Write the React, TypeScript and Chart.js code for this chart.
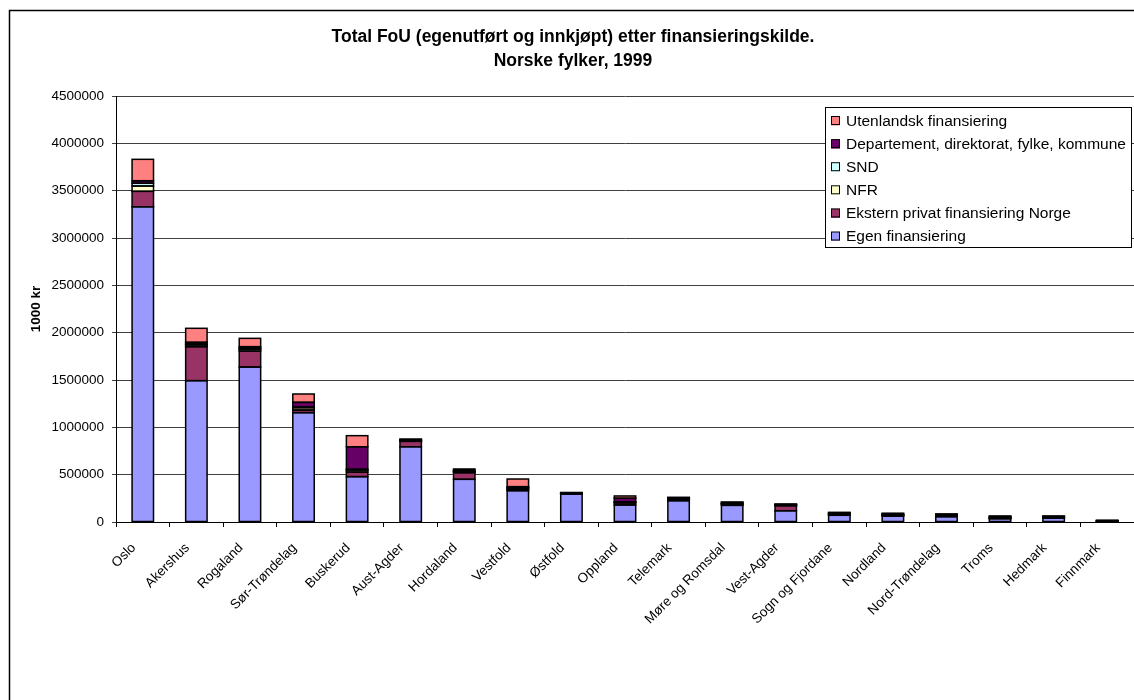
import React, { useEffect, useRef } from 'react';
import { Chart, registerables } from 'chart.js';

Chart.register(...registerables);

const FONT = "'Liberation Sans', Arial, Helvetica, sans-serif";

const categories = [
  'Oslo', 'Akershus', 'Rogaland', 'Sør-Trøndelag', 'Buskerud', 'Aust-Agder', 'Hordaland',
  'Vestfold', 'Østfold', 'Oppland', 'Telemark', 'Møre og Romsdal', 'Vest-Agder',
  'Sogn og Fjordane', 'Nordland', 'Nord-Trøndelag', 'Troms', 'Hedmark', 'Finnmark',
];

const egenFinansiering = [3330000, 1493000, 1637000, 1155000, 479000, 795000, 451000, 331000, 296000, 180000, 225000, 176000, 119000, 71000, 63000, 56000, 35000, 42000, 5000];
const eksternPrivat = [163000, 359000, 169000, 28000, 49000, 57000, 70000, 15000, 4000, 22000, 10000, 10000, 53000, 6000, 5000, 5000, 4000, 4000, 2000];
const nfr = [56000, 18000, 20000, 24000, 21000, 5000, 10000, 12000, 2000, 6000, 8000, 8000, 4000, 6000, 6000, 6000, 6000, 4000, 2000];
const snd = [29000, 10000, 10000, 8000, 8000, 3000, 5000, 5000, 2000, 3000, 3000, 3000, 3000, 3000, 3000, 3000, 3000, 3000, 1000];
const departement = [27000, 18000, 16000, 49000, 238000, 13000, 10000, 10000, 6000, 40000, 10000, 10000, 8000, 12000, 12000, 12000, 12000, 8000, 6000];
const utenlandsk = [226000, 148000, 88000, 88000, 117000, 2000, 14000, 81000, 1000, 24000, 5000, 4000, 3000, 4000, 3000, 3000, 3000, 2000, 2000];

const seriesNames = [
  'Egen finansiering',
  'Ekstern privat finansiering Norge',
  'NFR',
  'SND',
  'Departement, direktorat, fylke, kommune',
  'Utenlandsk finansiering',
];
const seriesColors = ['#9999FF', '#993366', '#FFFFCC', '#CCFFFF', '#660066', '#FF8080'];
const seriesValues = [egenFinansiering, eksternPrivat, nfr, snd, departement, utenlandsk];

const titleLines = ['Total FoU (egenutført og innkjøpt) etter finansieringskilde.', 'Norske fylker, 1999'];
const yAxisTitle = '1000 kr';
const yMax = 4500000;
const yStep = 500000;

const framePlugin = {
  id: 'frame',
  beforeDraw(chart: any) {
    const { ctx, width, height } = chart;
    ctx.save();
    ctx.fillStyle = '#ffffff';
    ctx.fillRect(0, 0, width, height);
    ctx.restore();
  },
  afterDatasetsDraw(chart: any) {
    const { ctx } = chart;
    ctx.save();
    ctx.strokeStyle = '#000000';
    ctx.lineWidth = 1.5;
    chart.data.datasets.forEach((_d: any, i: number) => {
      const meta = chart.getDatasetMeta(i);
      meta.data.forEach((bar: any) => {
        const { x, y, base, width } = bar.getProps(['x', 'y', 'base', 'width'], true);
        const top = Math.min(y, base);
        const h = Math.abs(base - y);
        ctx.strokeRect(x - width / 2, top, width, h);
      });
    });
    ctx.restore();
  },
  afterDraw(chart: any) {
    const { ctx } = chart;
    ctx.save();
    // outer frame
    ctx.strokeStyle = '#000000';
    ctx.lineWidth = 1.5;
    ctx.strokeRect(9.5, 10.5, 1200, 800);

    // title
    ctx.fillStyle = '#000000';
    ctx.font = `bold 17.5px ${FONT}`;
    ctx.textAlign = 'center';
    ctx.textBaseline = 'alphabetic';
    ctx.fillText(titleLines[0], 573, 42);
    ctx.fillText(titleLines[1], 573, 66);

    // legend
    const lx = 825.5;
    const ly = 107.5;
    const lw = 306;
    const lh = 140;
    ctx.fillStyle = '#ffffff';
    ctx.fillRect(lx, ly, lw, lh);
    ctx.strokeStyle = '#000000';
    ctx.lineWidth = 1;
    ctx.strokeRect(lx, ly, lw, lh);
    ctx.font = `15.5px ${FONT}`;
    ctx.textAlign = 'left';
    ctx.textBaseline = 'middle';
    const ds = chart.data.datasets;
    for (let i = 0; i < ds.length; i++) {
      const d = ds[ds.length - 1 - i];
      const cy = 121 + i * 23.1;
      ctx.fillStyle = d.backgroundColor;
      ctx.fillRect(831, cy - 4.5, 9, 9);
      ctx.strokeStyle = '#000000';
      ctx.lineWidth = 1;
      ctx.strokeRect(831.5, cy - 4.5, 8, 8);
      ctx.fillStyle = '#000000';
      ctx.fillText(d.label, 846, cy + 0.5);
    }
    ctx.restore();
  },
};

export default function App() {
  const canvasRef = useRef<HTMLCanvasElement | null>(null);

  useEffect(() => {
    const canvas = canvasRef.current;
    if (!canvas) return;
    const chart = new Chart(canvas, {
      type: 'bar',
      data: {
        labels: categories,
        datasets: seriesNames.map((name, i) => ({
          label: name,
          data: seriesValues[i],
          backgroundColor: seriesColors[i],
          borderWidth: 0,
          barPercentage: 0.4,
          categoryPercentage: 1,
        })),
      },
      options: {
        responsive: false,
        animation: false,
        devicePixelRatio: 1,
        layout: { padding: { left: 9, top: 96, right: 0, bottom: 0 } },
        plugins: {
          legend: { display: false },
          title: { display: false },
          tooltip: { enabled: false },
        },
        scales: {
          x: {
            stacked: true,
            afterFit: (scale: any) => {
              scale.height = 178;
            },
            grid: {
              display: true,
              drawOnChartArea: false,
              drawTicks: true,
              tickLength: 5,
              color: '#000000',
              offset: true,
            },
            border: { color: '#000000', width: 1 },
            ticks: {
              autoSkip: false,
              minRotation: 45,
              maxRotation: 45,
              padding: 13,
              labelOffset: -9,
              color: '#000000',
              font: { family: FONT, size: 13.5 },
            },
          },
          y: {
            stacked: true,
            min: 0,
            max: yMax,
            afterFit: (scale: any) => {
              scale.width = 107;
            },
            grid: {
              color: '#404040',
              lineWidth: 1,
              drawTicks: true,
              tickLength: 4,
            },
            border: { color: '#000000', width: 1 },
            ticks: {
              stepSize: yStep,
              padding: 8,
              color: '#000000',
              font: { family: FONT, size: 13.5 },
              callback: (v: any) => String(v),
            },
            title: {
              display: true,
              text: yAxisTitle,
              color: '#000000',
              font: { family: FONT, size: 13.5, weight: 'bold' },
              padding: { top: 19, bottom: 0 },
            },
          },
        },
      },
      plugins: [framePlugin],
    });
    return () => chart.destroy();
  }, []);

  return (
    <div style={{ position: 'absolute', left: 0, top: 0, width: 1134, height: 700, background: '#fff' }}>
      <canvas ref={canvasRef} width={1134} height={700} style={{ display: 'block', width: 1134, height: 700 }} />
    </div>
  );
}
